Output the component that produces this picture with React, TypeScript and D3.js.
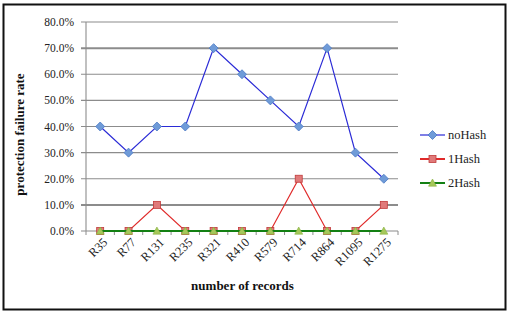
import React from "react";
import * as d3 from "d3";

const categories = ["R35", "R77", "R131", "R235", "R321", "R410", "R579", "R714", "R864", "R1095", "R1275"];
const noHash = [40, 30, 40, 40, 70, 60, 50, 40, 70, 30, 20];
const oneHash = [0, 0, 10, 0, 0, 0, 0, 20, 0, 0, 10];
const twoHash = [0, 0, 0, 0, 0, 0, 0, 0, 0, 0, 0];
const yTicks = [0, 10, 20, 30, 40, 50, 60, 70, 80];
const seriesNames = ["noHash", "1Hash", "2Hash"];

const W = 509, H = 312;
const plot = { left: 86, right: 398, top: 22, bottom: 231 };
const font = "'Liberation Serif', 'DejaVu Serif', serif";

export default function App() {
  const x = d3.scaleBand<string>().domain(categories).range([plot.left, plot.right]);
  const y = d3.scaleLinear().domain([0, 80]).range([plot.bottom, plot.top]);
  const cx = (c: string) => (x(c) as number) + x.bandwidth() / 2;
  const line = d3.line<number>().x((_, i) => cx(categories[i])).y(d => y(d));

  const series = [
    { name: seriesNames[0], data: noHash, line: "#2b2bd6", fill: "#6f9bd8", stroke: "#4a78c4", shape: "diamond" },
    { name: seriesNames[1], data: oneHash, line: "#e02a2a", fill: "#e07a7a", stroke: "#c03a3a", shape: "square" },
    { name: seriesNames[2], data: twoHash, line: "#138013", fill: "#a6c85a", stroke: "#88b040", shape: "triangle" },
  ];

  const marker = (shape: string, px: number, py: number, fill: string, stroke: string, key: string) => {
    if (shape === "diamond") {
      const s = 4.5;
      return <path key={key} d={`M${px},${py - s}L${px + s},${py}L${px},${py + s}L${px - s},${py}Z`} fill={fill} stroke={stroke} strokeWidth={0.8} />;
    }
    if (shape === "square") {
      const s = 3.5;
      return <rect key={key} x={px - s} y={py - s} width={2 * s} height={2 * s} fill={fill} stroke={stroke} strokeWidth={0.8} />;
    }
    const s = 4;
    return <path key={key} d={`M${px},${py - s}L${px + s},${py + s * 0.8}L${px - s},${py + s * 0.8}Z`} fill={fill} stroke={stroke} strokeWidth={0.6} />;
  };

  const legendY = [135, 159, 183];

  return (
    <div style={{ position: "absolute", left: 0, top: 0 }}>
      <svg width={W} height={H} style={{ display: "block", background: "#fff" }}>
        <rect x={3.5} y={4.5} width={502} height={305} fill="none" stroke="#111" strokeWidth={2} />
        {yTicks.map(t => (
          <g key={t}>
            <line x1={plot.left - 5} x2={plot.right} y1={y(t)} y2={y(t)} stroke="#8c8c8c" strokeWidth={t === 70 || t === 10 ? 2 : 1.1} />
            <text x={74} y={y(t)} dy="0.35em" textAnchor="end" fontFamily={font} fontSize={11.5} fill="#222">{t.toFixed(1)}%</text>
          </g>
        ))}
        <line x1={plot.left} x2={plot.left} y1={plot.top} y2={plot.bottom} stroke="#8c8c8c" strokeWidth={1.1} />
        {categories.map((c, i) => (
          <line key={"t" + i} x1={(x(c) as number)} x2={(x(c) as number)} y1={plot.bottom} y2={plot.bottom + 4} stroke="#8c8c8c" />
        ))}
        <line x1={plot.right} x2={plot.right} y1={plot.bottom} y2={plot.bottom + 4} stroke="#8c8c8c" />
        {categories.map(c => (
          <text key={c} transform={`translate(${cx(c) + 5},${plot.bottom + 9}) rotate(-45)`} textAnchor="end" dy="0.35em" fontFamily={font} fontSize={12.5} fill="#222">{c}</text>
        ))}
        {series.map(s => (
          <g key={s.name}>
            <path d={line(s.data) as string} fill="none" stroke={s.line} strokeWidth={s.name === "2Hash" ? 2.2 : 1.2} />
            {s.data.map((v, i) => marker(s.shape, cx(categories[i]), y(v), s.fill, s.stroke, s.name + i))}
          </g>
        ))}
        <text transform={`translate(24,134.5) rotate(-90)`} textAnchor="middle" fontFamily={font} fontWeight="bold" fontSize={13} fill="#111">protection failure rate</text>
        <text x={242.5} y={290} textAnchor="middle" fontFamily={font} fontWeight="bold" fontSize={13} fill="#111">number of records</text>
        {series.map((s, i) => (
          <g key={"l" + s.name}>
            <line x1={420} x2={445} y1={legendY[i]} y2={legendY[i]} stroke={s.line} strokeWidth={s.name === "noHash" ? 1.2 : 2} />
            {marker(s.shape, 432.5, legendY[i], s.fill, s.stroke, "lm" + i)}
            <text x={448} y={legendY[i]} dy="0.35em" fontFamily={font} fontSize={12.5} fill="#222">{s.name}</text>
          </g>
        ))}
      </svg>
    </div>
  );
}
